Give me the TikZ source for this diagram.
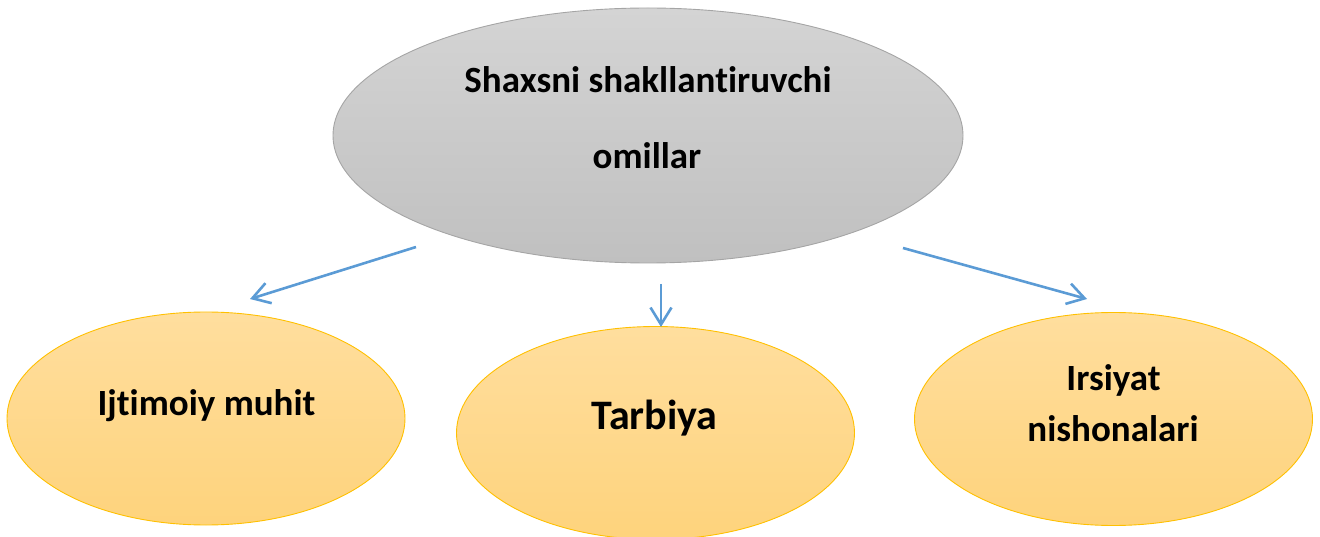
\documentclass[tikz,border=0pt]{standalone}
\usepackage{fontspec}
\setmainfont{Carlito}[Ligatures={NoCommon}]
\usetikzlibrary{shapes.geometric,arrows.meta}
\definecolor{grayTop}{RGB}{212,212,212}
\definecolor{grayBot}{RGB}{192,192,192}
\definecolor{grayLine}{RGB}{165,165,165}
\definecolor{goldTop}{RGB}{255,222,158}
\definecolor{goldBot}{RGB}{254,211,124}
\definecolor{goldLine}{RGB}{255,192,0}
\definecolor{arrowBlue}{RGB}{91,155,213}
\tikzset{
  grayell/.style={ellipse, draw=grayLine, line width=0.9pt, top color=grayTop, bottom color=grayBot,
    inner sep=0pt, outer sep=0pt, minimum width=630pt, minimum height=255pt},
  goldell/.style={ellipse, draw=goldLine, line width=0.9pt, top color=goldTop, bottom color=goldBot,
    inner sep=0pt, outer sep=0pt, minimum width=398pt, minimum height=213pt},
  lbl/.style={anchor=base, inner sep=0pt, font=\fontsize{37}{41}\selectfont\bfseries},
  biglbl/.style={anchor=base, inner sep=0pt, font=\fontsize{42}{46}\selectfont\bfseries},
  conn/.style={draw=arrowBlue, line width=2.6pt, -{Straight Barb[length=17pt,width=21pt]}}
}
\begin{document}
\begin{tikzpicture}[x=1pt,y=-1pt]
\useasboundingbox (0,0) rectangle (1320,537);
% ellipses
\node[grayell] (top) at (648,135.5) {};
\node[goldell] (left) at (206,418.5) {};
\node[goldell] (mid) at (655.5,433) {};
\node[goldell] (right) at (1113.5,419) {};
% texts
\node[lbl] (t1) at (648,93) {Shaxsni shakllantiruvchi};
\node[lbl] (t2) at (647,169) {omillar};
\node[lbl] (l1) at (206.5,415) {Ijtimoiy muhit};
\node[biglbl] (m1) at (654.5,429) {Tarbiya};
\node[lbl] (r1) at (1113.5,390) {Irsiyat};
\node[lbl] (r2) at (1113,441) {nishonalari};
% connector ends
\coordinate (aLs) at (416,247);
\coordinate (aLe) at (250,299);
\coordinate (aMs) at (661,284);
\coordinate (aMe) at (661,327);
\coordinate (aRs) at (903,248);
\coordinate (aRe) at (1087,299);
\draw[conn] (aLs) -- (aLe);
\draw[conn] (aMs) -- (aMe);
\draw[conn] (aRs) -- (aRe);
\end{tikzpicture}
\end{document}
